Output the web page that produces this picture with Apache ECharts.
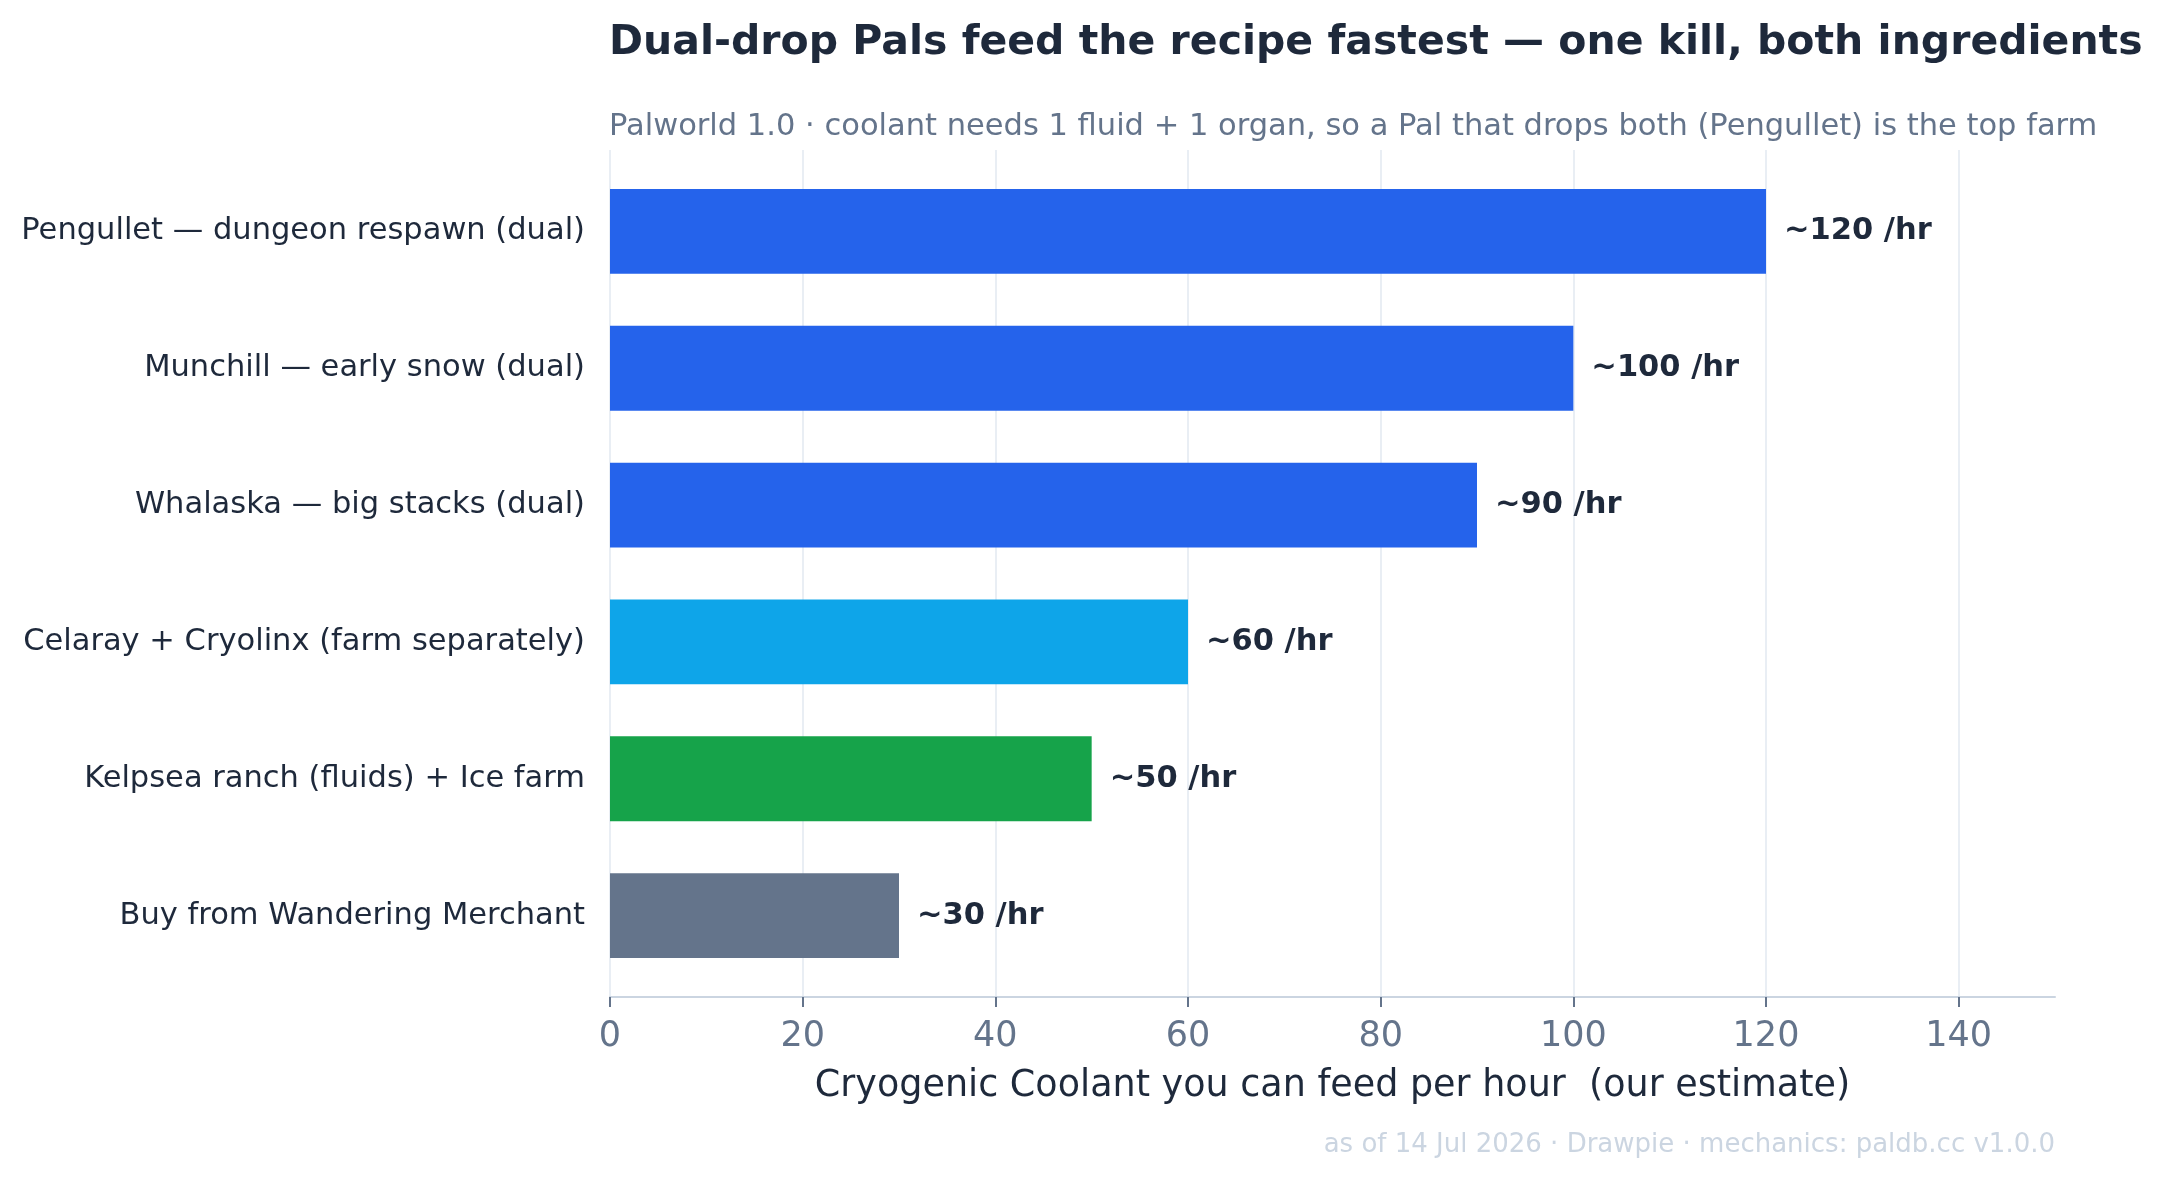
<!DOCTYPE html>
<html lang="en">
<head>
    <meta charset="UTF-8">
    <title>Cryogenic Coolant farms</title>
    <style>
        html, body { margin: 0; padding: 0; background: #ffffff; }
        #main { width: 2177px; height: 1180px; }
    </style>
</head>
<body>
<div id="main"></div>
<script src="https://cdn.jsdelivr.net/npm/echarts@6/dist/echarts.min.js"></script>
<script>
    // data
    var routes = [
        'Pengullet — dungeon respawn (dual)',
        'Munchill — early snow (dual)',
        'Whalaska — big stacks (dual)',
        'Celaray + Cryolinx (farm separately)',
        'Kelpsea ranch (fluids) + Ice farm',
        'Buy from Wandering Merchant'
    ];
    var perHour = [120, 100, 90, 60, 50, 30];
    var barColors = ['#2563eb', '#2563eb', '#2563eb', '#0ea5e9', '#16a34a', '#64748b'];
    var xTicks = [0, 20, 40, 60, 80, 100, 120, 140];

    var font = '"DejaVu Sans", "Noto Sans", sans-serif';
    var chart = echarts.init(document.getElementById('main'));

    // grid 0 = frame with the x axis and grid lines, grid 1 = bars (a bit inset, like the margins in the original)
    var option = {
        backgroundColor: '#ffffff',
        animation: false,
        textStyle: { fontFamily: font },
        title: [
            {
                text: 'Dual-drop Pals feed the recipe fastest — one kill, both ingredients',
                left: 609, top: 23, padding: 0,
                textStyle: { fontFamily: font, fontSize: 41, fontWeight: 'bold', color: '#1e293b' }
            },
            {
                text: 'Palworld 1.0 · coolant needs 1 fluid + 1 organ, so a Pal that drops both (Pengullet) is the top farm',
                left: 609, top: 112, padding: 0,
                textStyle: { fontFamily: font, fontSize: 30.5, fontWeight: 'normal', color: '#64748b' }
            },
            {
                text: 'as of 14 Jul 2026 · Drawpie · mechanics: paldb.cc v1.0.0',
                right: 122, top: 1132, padding: 0,
                textStyle: { fontFamily: font, fontSize: 26, fontWeight: 'normal', color: '#cbd5e1' }
            }
        ],
        grid: [
            { left: 610, right: 122, top: 150, bottom: 183 },
            { left: 610, right: 122, top: 163, bottom: 196 }
        ],
        xAxis: [
            {
                type: 'value',
                gridIndex: 0,
                min: 0, max: 150, interval: 20,
                name: 'Cryogenic Coolant you can feed per hour  (our estimate)',
                nameLocation: 'middle',
                nameGap: 71,
                nameTextStyle: { fontFamily: font, fontSize: 36.5, color: '#1e293b' },
                axisLine: { show: true, lineStyle: { color: '#cbd5e1', width: 2 } },
                axisTick: { show: true, length: 10, customValues: xTicks, lineStyle: { color: '#64748b', width: 2 } },
                axisLabel: {
                    fontFamily: font, fontSize: 35, color: '#64748b', margin: 22,
                    customValues: xTicks
                },
                splitLine: { show: true, lineStyle: { color: '#e2e8f0', width: 1.5 } }
            },
            {
                type: 'value',
                gridIndex: 1,
                min: 0, max: 150,
                show: false,
                splitLine: { show: false }
            }
        ],
        yAxis: [
            {
                type: 'category',
                gridIndex: 0,
                data: routes,
                show: false
            },
            {
                type: 'category',
                gridIndex: 1,
                data: routes,
                inverse: true,
                axisLine: { show: false },
                axisTick: { show: false },
                splitLine: { show: false },
                axisLabel: {
                    fontFamily: font, fontSize: 30.5, color: '#1e293b', margin: 25,
                    padding: [4, 0, 0, 0]
                }
            }
        ],
        series: [{
            type: 'bar',
            xAxisIndex: 1,
            yAxisIndex: 1,
            barCategoryGap: '38%',
            data: perHour.map(function (v, i) {
                return { value: v, itemStyle: { color: barColors[i] } };
            }),
            label: {
                show: true,
                position: 'right',
                distance: 18,
                padding: [3, 0, 0, 0],
                fontFamily: font,
                fontSize: 30.5,
                fontWeight: 'bold',
                color: '#1e293b',
                formatter: function (p) { return '~' + p.value + ' /hr'; }
            }
        }]
    };
    chart.setOption(option);
</script>
</body>
</html>
